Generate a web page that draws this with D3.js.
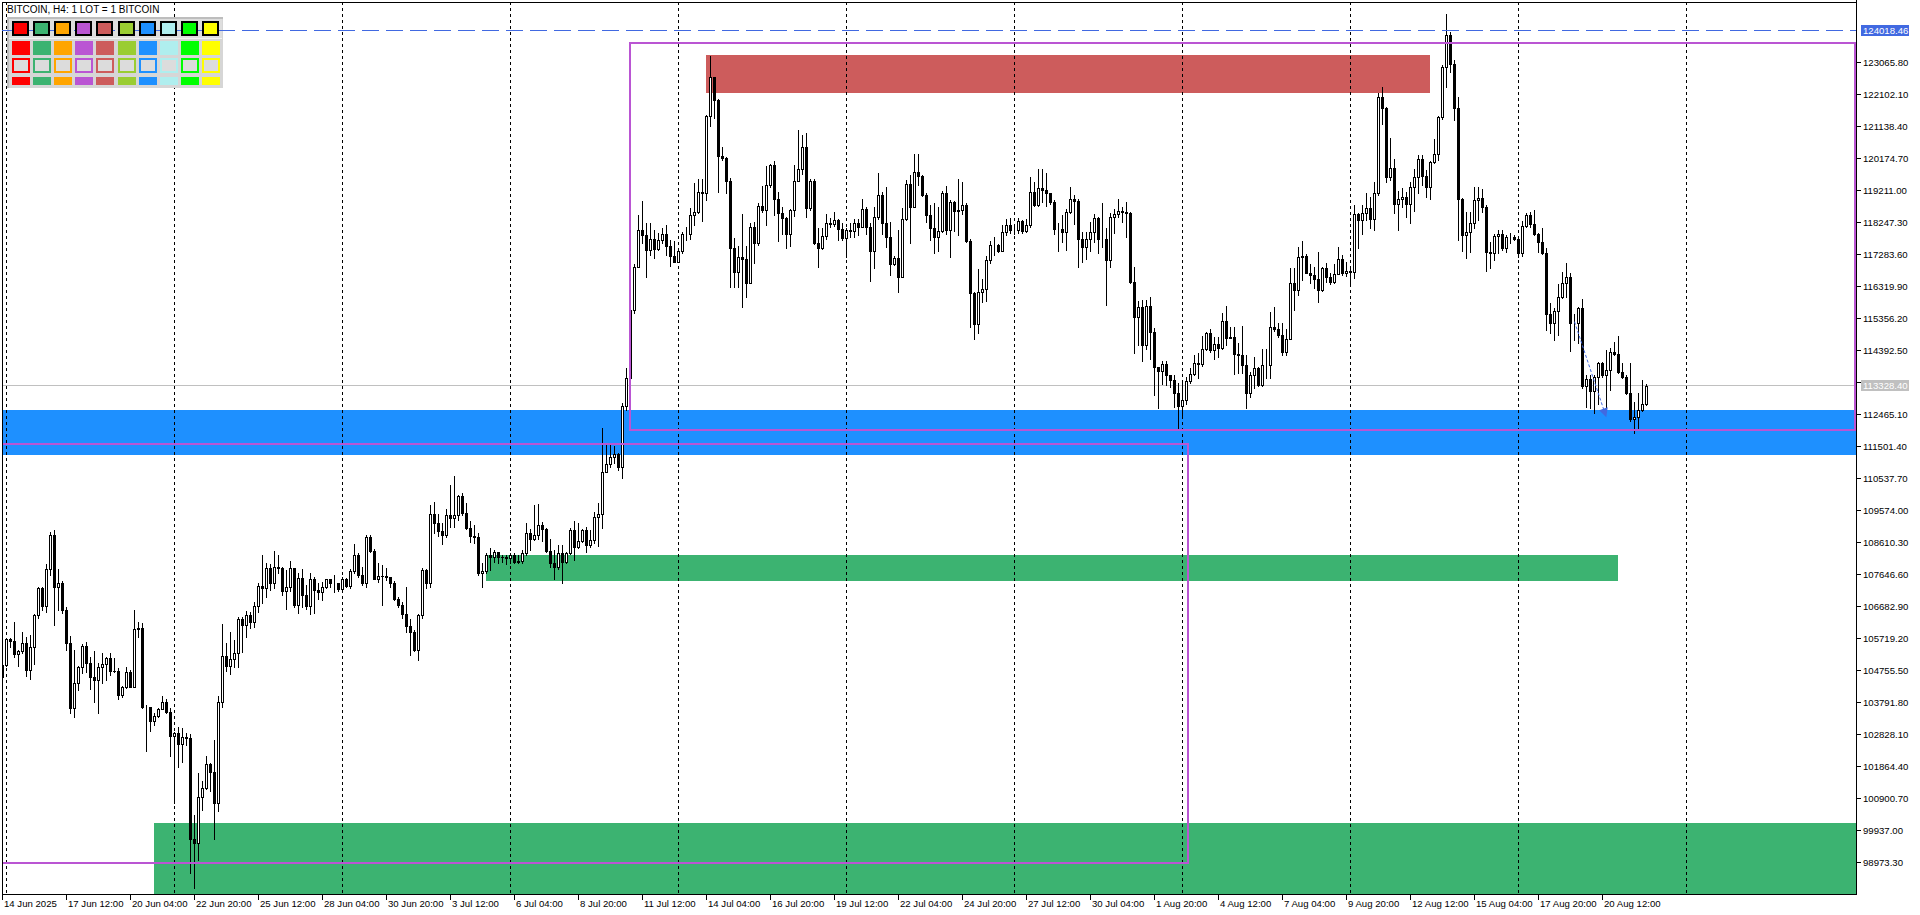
<!DOCTYPE html>
<html><head><meta charset="utf-8">
<script src="https://cdn.jsdelivr.net/npm/d3@7"></script>
<style>
html,body{margin:0;padding:0;background:#fff;overflow:hidden}
svg{display:block}
text{font-family:"Liberation Sans",Arial,sans-serif;}
</style>
</head><body>
<svg id="chart" width="1920" height="915"></svg>
<script>
// ---------------- DATA ----------------
const title = "BITCOIN, H4:  1 LOT = 1 BITCOIN";
const firstOpen = 104560;
const closes = [
104910,105690,105630,105240,105350,105590,104750,105450,106420,107220,
106700,107800,108820,107270,107370,106570,105570,103630,104360,104840,
105490,104980,104540,104450,104840,104960,105120,104740,104730,104000,
104260,104690,104260,105990,106020,103660,103660,103240,103380,103580,
103810,103490,102790,102860,102550,102740,102730,99690,99540,100930,
101200,101930,101700,100750,103790,105200,104890,105090,105270,106290,
106130,106420,106220,106700,107290,107220,107830,107370,107880,107830,
107150,107250,107830,106720,107550,107020,106700,107520,107170,107120,
107250,107490,107370,107370,107190,107520,107290,107750,108220,107620,
107390,108760,108350,107520,107610,107600,107570,107390,106890,106720,
106450,106100,105920,105370,106410,107780,107390,109460,109180,108960,
108830,109430,109330,109440,110000,109500,109030,108810,108780,107680,
107750,108220,108180,108320,108180,108160,108130,108230,108030,108040,
108280,108880,108700,108830,109120,109020,108360,107980,107880,108280,
108010,108280,108980,108460,108640,108980,108530,108680,109360,109460,
110740,110960,111170,111260,110890,112710,113550,115610,116910,118020,
117870,117410,117730,117440,117710,117890,117540,117240,117060,117380,
117910,117910,118470,118570,119150,119120,121450,122610,121930,120250,
120170,119500,117480,116760,117210,117150,116410,118120,117610,118740,
118620,119370,119970,118950,118540,118370,117910,118620,119490,119840,
120510,118670,119500,117610,117460,117830,118220,118200,118320,118040,
117780,118020,117990,118240,118120,118640,118120,117390,118400,119060,
118220,117790,116990,117160,116610,118340,119400,118720,119770,119640,
119070,118470,118070,117790,117990,119140,118020,118870,118600,118620,
118770,117690,116130,115180,116150,116230,117110,117560,117560,117390,
117970,118170,118020,118020,118290,118000,118160,119170,118770,119270,
119220,119120,118870,118040,118040,117970,118550,118940,118900,117730,
117490,117730,117960,118370,117730,117730,117110,118400,118500,118590,
118570,118520,116460,115400,115690,114550,115730,114950,113880,113780,
113980,113650,113500,113120,112710,112910,113470,113680,114000,113970,
114420,114900,114400,114580,114450,115270,114750,114800,114280,114250,
113950,113100,113650,113850,113350,113950,113950,115100,115020,114850,
114350,114720,116430,116210,117190,117230,116730,116660,116530,116210,
116860,116610,116460,116690,117130,116710,116790,116760,118490,118320,
118520,118670,118340,119120,122030,121680,119620,119870,118790,118940,
119020,118800,119300,119620,120140,119640,119300,120050,120290,121410,
122910,123890,123000,121700,118940,117860,117960,118240,118920,118970,
118720,117360,117310,117830,117910,117460,117810,117810,117730,117330,
118150,118470,118200,117910,117660,117310,115500,115200,115590,115990,
116410,116590,115220,115220,115660,113320,113520,113180,113600,114000,
113650,113800,114350,114280,113750,113580,113100,112310,112370,112590,
112790,113328.4];
const highs = [
104960,105710,105730,106200,105370,105900,105770,105820,106440,107270,
107250,107960,108930,108980,107810,107440,106670,105790,105370,104880,
105540,105600,105170,105350,104980,105270,105170,105270,105120,104810,
104280,104860,104760,106570,106200,106170,103700,103560,103460,103610,
103980,103890,103610,102910,103040,103010,102880,102840,100400,101650,
101420,102170,101950,102660,103980,106150,105570,105900,105670,106370,
106370,106550,106520,106810,107370,108230,107980,107960,108350,108230,
107880,107780,108060,107800,107680,107800,107320,107700,107570,107390,
107420,107520,107450,107620,107390,107570,107550,107800,108560,108280,
107880,108830,108830,108400,108000,107930,107830,107550,107450,106970,
106820,107250,106290,105970,106450,107830,107800,109730,109810,109460,
109180,109600,110340,110610,110030,110080,109780,109250,109130,108900,
108000,108300,108430,108380,108250,108230,108230,108280,108280,108230,
108380,109200,109010,109730,109760,109230,109030,108700,108380,108530,
108530,108330,109030,109250,109180,109010,109080,108980,109530,109800,
112040,111540,111540,111510,111310,112820,113850,115650,116980,118470,
118890,118240,118240,118020,117930,118070,118170,117710,117690,117430,
117960,118120,118670,119440,119540,119540,121480,123260,122630,121960,
120510,120220,119570,117760,117530,118500,117530,118240,118270,118820,
119340,119940,120000,120090,119150,118720,118420,118640,119970,121030,
120880,120930,119540,119540,118070,118070,118490,118390,118550,118340,
118220,118070,118220,118340,118350,118940,118700,118220,118700,119740,
119170,119320,118270,117230,118020,118670,119520,119670,120290,120300,
119670,119120,118770,118820,118720,119200,119340,118920,118900,119540,
119470,118840,117730,116160,116830,116530,117230,117690,117790,117590,
118170,118340,118370,118120,118370,118320,118340,119620,119470,119840,
119840,119720,119140,118920,118220,118470,118640,119320,119070,118940,
117960,117960,118270,118490,118420,118820,118070,118520,118640,118940,
118720,118870,118570,116910,115890,115910,115910,115990,115050,113900,
114070,114070,113650,113650,113420,113420,113600,113850,114250,114300,
114820,114950,115020,114800,114800,115510,115730,115100,115100,114600,
115120,114250,113750,114200,113900,114420,114420,115560,115710,115220,
115200,115020,116860,116860,117510,117680,117290,116990,116910,117340,
116910,117030,116710,116990,117510,117260,117060,116910,118770,118520,
118770,119120,119020,119470,122130,122330,121710,120780,120140,119200,
119270,119170,119470,119840,120270,120270,119820,120100,120750,121450,
122980,124520,123990,123140,122010,118970,118570,118570,119320,119320,
119240,118770,117660,117910,118010,118010,117860,117930,117860,117710,
118300,118540,118570,118620,117930,118070,117460,115810,115660,116390,
116760,117010,116730,115500,115710,115930,113650,113650,113650,114050,
114050,114400,114450,114650,114820,114000,113650,114020,112840,113100,
113500,113380];
const lows = [
104490,104880,105450,105170,104890,105270,104590,104490,104940,106320,
106570,106520,107630,106120,106570,106490,105370,103480,103360,104160,
104680,104710,104190,103810,103480,104380,104460,104610,104690,103890,
103940,104210,104240,104240,105770,103630,102330,102940,103110,103340,
103740,103460,102180,100770,101850,102000,102500,98660,98190,99040,
100550,101170,101130,99660,100530,103660,104740,104640,104860,104840,
105320,105770,106020,106070,106520,106770,106970,107170,107220,107680,
107020,106590,107150,106670,106470,106670,106590,106440,106470,106890,
106870,107220,107270,107120,107150,107120,107270,107220,107680,107570,
107320,107270,108310,107490,107420,106720,107470,107270,106870,106670,
106320,105920,105220,105350,105060,106320,107220,107250,108880,108800,
108550,108780,109060,109060,109280,109430,109000,108630,108580,107620,
107270,107680,107780,108030,108000,108030,107960,107980,108000,107980,
107980,108230,108380,108680,108700,108660,108330,107880,107490,107800,
107390,107980,108250,108080,108430,108610,108330,108480,108580,108500,
109030,110840,110890,110990,110790,110540,112590,113550,115510,116890,
117610,116610,117260,117180,117410,117610,117260,116940,117040,117110,
117310,117710,117730,118170,118540,118300,118920,121150,121380,119170,
120120,119140,116290,116290,116290,115710,116010,116560,117030,117560,
118570,118170,119320,118470,117680,117890,117480,117530,118440,119570,
119700,118400,118620,117590,116890,117430,117730,118120,118140,117710,
117710,117210,117790,117790,117860,118100,117910,116490,116860,118340,
117910,117510,116660,116960,116160,116590,118320,117630,118700,119370,
119040,118270,117710,117330,117380,117970,117890,117190,118000,117860,
118500,117660,115100,114730,114900,115860,115890,117010,117260,117360,
117810,117860,117940,117910,117940,117940,117970,118120,118740,118740,
118870,118740,118800,117890,117390,117660,117410,118520,118200,116910,
117060,117140,117390,117660,117330,117510,115760,116910,117930,118400,
118250,117790,116430,114300,114550,114080,114420,114120,113050,112640,
113380,113350,113300,112670,112030,112350,112770,113420,113650,113550,
113920,114400,114350,114120,114200,114420,114550,114750,113680,113700,
113700,112640,113000,113250,113320,113320,113550,113550,114980,114800,
114250,114250,114880,115610,116060,116510,116710,116430,116260,115860,
116190,116460,116390,116430,117010,116660,116630,116330,116560,117460,
117910,118320,118070,118030,119070,121210,119470,119520,118520,118010,
118700,118420,118220,118600,119120,119370,119020,118940,120020,120120,
121350,122330,122780,121330,117710,117390,117160,117360,118070,118320,
118570,116790,116860,117110,117310,117410,117360,117610,117710,117210,
117230,118120,118120,117860,117360,117290,115000,114920,114700,114850,
115960,115990,114380,114700,114600,113250,112690,112640,112510,112790,
113600,112640,113200,114250,113720,113550,113080,112270,111910,112040,
112570,112740];

// price axis tick values
const yTickValues = [123065.80,122102.10,121138.40,120174.70,119211.00,118247.30,117283.60,
116319.90,115356.20,114392.50,113428.80,112465.10,111501.40,110537.70,109574.00,108610.30,
107646.60,106682.90,105719.20,104755.50,103791.80,102828.10,101864.40,100900.70,99937.00,98973.30];
// time axis labels (every 16 bars from the first bar)
const xTickLabels = ["14 Jun 2025","17 Jun 12:00","20 Jun 04:00","22 Jun 20:00","25 Jun 12:00",
"28 Jun 04:00","30 Jun 20:00","3 Jul 12:00","6 Jul 04:00","8 Jul 20:00","11 Jul 12:00",
"14 Jul 04:00","16 Jul 20:00","19 Jul 12:00","22 Jul 04:00","24 Jul 20:00","27 Jul 12:00",
"30 Jul 04:00","1 Aug 20:00","4 Aug 12:00","7 Aug 04:00","9 Aug 20:00","12 Aug 12:00",
"15 Aug 04:00","17 Aug 20:00","20 Aug 12:00"];
const xTickEvery = 16;
// weekly separators: first at bar 1 (15 Jun 00:00), every 42 bars
const gridFirstBar = 1, gridEvery = 42, gridCount = 11;

// zones (bar index start/end, top price, bottom price)
const zoneStart = [176, -20, 121, 38];
const zoneEnd   = [357, 520, 404, 520];
const zoneTop   = [123285, 112594, 108228, 100166];
const zoneBottom= [122150, 111239, 107454, 97000];
// range rectangles
const rangeStart = [-20, 157];
const rangeEnd   = [296.5, 463.25];
const rangeTop   = [111571, 123656];
const rangeBottom= [98961, 111992];
// horizontal lines
const alertLevel = 124018.46;
const bidLevel = 113328.40;
// trend arrow (bar, price)
const arrowFrom = [393, 115254];
const arrowTo   = [401, 112400];
// colour palette panel
const paletteColors = ["#FF0000","#3CB371","#FFA500","#BA55D3","#CD5C5C","#9ACD32","#1E90FF","#AFEEEE","#00FF00","#FFFF00"];

// ---------------- STYLE ----------------
const zoneColors = ["#CD5C5C","#1E90FF","#3CB371","#3CB371"];
const PURPLE = "#BA55D3", ROYAL = "#4169E1";
const FONT = 9.6;

// ---------------- DRAW ----------------
const svg = d3.select("#chart");
const P = {l:2, r:1856, t:2, b:894};
const x = d3.scaleLinear().domain([0,1]).range([2,6]);
const y = d3.scaleLinear().domain([98973.3,123065.8]).range([862.3,62.3]);
const fmt = d3.format(".2f");

svg.append("rect").attr("width",1920).attr("height",915).attr("fill","#fff");
const defs = svg.append("defs");
defs.append("clipPath").attr("id","clip").append("rect")
  .attr("x",P.l+1).attr("y",P.t+1).attr("width",P.r-P.l-1).attr("height",P.b-P.t-1);
defs.append("marker").attr("id","arr").attr("viewBox","0 0 10 10").attr("refX",9).attr("refY",5)
  .attr("markerUnits","userSpaceOnUse").attr("markerWidth",10).attr("markerHeight",9).attr("orient","auto")
  .append("path").attr("d","M0,0 L10,5 L0,10 z").attr("fill",ROYAL);

const g = svg.append("g").attr("clip-path","url(#clip)").attr("shape-rendering","crispEdges");

// zones
g.selectAll("rect.zone").data(d3.range(zoneStart.length)).join("rect")
  .attr("x",i=>x(zoneStart[i])).attr("width",i=>x(zoneEnd[i])-x(zoneStart[i]))
  .attr("y",i=>Math.round(y(zoneTop[i]))).attr("height",i=>Math.round(y(zoneBottom[i]))-Math.round(y(zoneTop[i])))
  .attr("fill",i=>zoneColors[i]);

// weekly grid
g.selectAll("line.grid").data(d3.range(gridCount).map(k=>gridFirstBar+k*gridEvery)).join("line")
  .attr("x1",b=>x(b)+0.5).attr("x2",b=>x(b)+0.5).attr("y1",P.t).attr("y2",P.b)
  .attr("stroke","#000").attr("stroke-width",1).attr("stroke-dasharray","3,3");

// bid line
const yb = Math.floor(y(bidLevel))+0.5;
g.append("line").attr("x1",P.l).attr("x2",P.r).attr("y1",yb).attr("y2",yb).attr("stroke","#C0C0C0");

// candles
const bars = closes.map((c,i)=>{
  const o = i===0 ? firstOpen : closes[i-1];
  return {i,o,c,h:Math.max(highs[i],o,c),l:Math.min(lows[i],o,c)};
});
const cg = g.append("g");
cg.selectAll("line.wick").data(bars).join("line")
  .attr("x1",d=>x(d.i)+0.5).attr("x2",d=>x(d.i)+0.5)
  .attr("y1",d=>Math.round(y(d.h))).attr("y2",d=>Math.round(y(d.l))+1)
  .attr("stroke","#000").attr("stroke-width",1);
cg.selectAll("rect.body").data(bars).join("rect")
  .each(function(d){
    const top = Math.round(y(Math.max(d.o,d.c))), bot = Math.round(y(Math.min(d.o,d.c)));
    const s = d3.select(this);
    if (d.c >= d.o) {
      s.attr("x",x(d.i)-0.5).attr("y",top+0.5).attr("width",2).attr("height",Math.max(0,bot-top))
       .attr("fill","#fff").attr("stroke","#000").attr("stroke-width",1);
    } else {
      s.attr("x",x(d.i)-1).attr("y",top).attr("width",3).attr("height",Math.max(1,bot-top+1))
       .attr("fill","#000");
    }
  });

// range rectangles
g.selectAll("rect.range").data(d3.range(rangeStart.length)).join("rect")
  .attr("x",i=>x(rangeStart[i])).attr("width",i=>x(rangeEnd[i])-x(rangeStart[i]))
  .attr("y",i=>Math.round(y(rangeTop[i]))).attr("height",i=>Math.round(y(rangeBottom[i]))-Math.round(y(rangeTop[i])))
  .attr("fill","none").attr("stroke",PURPLE).attr("stroke-width",2);

// alert dashed line
const ya = Math.floor(y(alertLevel))+0.5;
g.append("line").attr("x1",P.l).attr("x2",P.r).attr("y1",ya).attr("y2",ya)
  .attr("stroke",ROYAL).attr("stroke-dasharray","17,7");

// trend arrow
svg.append("line").attr("x1",x(arrowFrom[0])+0.5).attr("y1",y(arrowFrom[1]))
  .attr("x2",x(arrowTo[0])).attr("y2",y(arrowTo[1]))
  .attr("stroke",ROYAL).attr("stroke-width",1).attr("stroke-dasharray","3,2").attr("marker-end","url(#arr)");

// frame & axes
const fr = svg.append("g").attr("shape-rendering","crispEdges");
fr.append("line").attr("x1",P.l+0.5).attr("x2",P.l+0.5).attr("y1",P.t).attr("y2",P.b+1).attr("stroke","#000");
fr.append("line").attr("x1",P.l).attr("x2",P.r+1).attr("y1",P.t+0.5).attr("y2",P.t+0.5).attr("stroke","#000");
fr.append("line").attr("x1",P.r+0.5).attr("x2",P.r+0.5).attr("y1",0).attr("y2",P.b+1).attr("stroke","#000");
fr.append("line").attr("x1",P.l).attr("x2",P.r+1).attr("y1",P.b+0.5).attr("y2",P.b+0.5).attr("stroke","#000");

// price axis
const ya2 = svg.append("g");
ya2.selectAll("line").data(yTickValues).join("line")
  .attr("x1",P.r+1).attr("x2",P.r+5).attr("y1",v=>Math.floor(y(v))+0.5).attr("y2",v=>Math.floor(y(v))+0.5)
  .attr("stroke","#000").attr("shape-rendering","crispEdges");
ya2.selectAll("text").data(yTickValues).join("text")
  .attr("x",P.r+7).attr("y",v=>y(v)+3.5).attr("font-size",FONT).attr("fill","#000").text(v=>fmt(v));

function priceBox(v, bg){
  const yy = Math.floor(y(v));
  svg.append("rect").attr("x",P.r+5).attr("y",yy-5).attr("width",48).attr("height",11).attr("fill",bg);
  svg.append("text").attr("x",P.r+7).attr("y",yy+4).attr("font-size",FONT).attr("fill","#fff").text(fmt(v));
}
priceBox(alertLevel, ROYAL);
priceBox(bidLevel, "#C0C0C0");

// time axis
const xa = svg.append("g");
const tb = xTickLabels.map((s,k)=>({s,b:k*xTickEvery}));
xa.selectAll("line").data(tb).join("line")
  .attr("x1",d=>x(d.b)+0.5).attr("x2",d=>x(d.b)+0.5).attr("y1",P.b+1).attr("y2",P.b+6)
  .attr("stroke","#000").attr("shape-rendering","crispEdges");
xa.selectAll("text").data(tb).join("text")
  .attr("x",d=>x(d.b)+2).attr("y",906.5).attr("font-size",FONT).attr("fill","#000").text(d=>d.s);

// palette panel
const pal = svg.append("g").attr("shape-rendering","crispEdges");
pal.append("rect").attr("x",7).attr("y",18).attr("width",216).attr("height",70).attr("fill","#D6D6D6");
pal.append("rect").attr("x",8).attr("y",19).attr("width",214).attr("height",19).attr("fill","#DEDEDE");
pal.append("rect").attr("x",7).attr("y",17).attr("width",216).attr("height",2).attr("fill","#BDBDBD");
pal.append("rect").attr("x",7).attr("y",17).attr("width",2).attr("height",71).attr("fill","#BDBDBD");
pal.append("rect").attr("x",9).attr("y",38).attr("width",213).attr("height",1).attr("fill","#F2F2F2");
// dashed alert line passes behind swatches
pal.append("line").attr("x1",P.l).attr("x2",223).attr("y1",ya).attr("y2",ya).attr("stroke",ROYAL).attr("stroke-dasharray","17,7");
const colX = i => 12 + i*21.1;
pal.selectAll("rect.r1").data(paletteColors).join("rect")
  .attr("x",(c,i)=>Math.round(colX(i))+1).attr("y",22).attr("width",15).attr("height",13)
  .attr("fill",c=>c).attr("stroke","#000").attr("stroke-width",2);
pal.selectAll("rect.r2").data(paletteColors).join("rect")
  .attr("x",(c,i)=>Math.round(colX(i))).attr("y",41).attr("width",18).attr("height",14).attr("fill",c=>c);
pal.selectAll("rect.r3").data(paletteColors).join("rect")
  .attr("x",(c,i)=>Math.round(colX(i))+1).attr("y",59).attr("width",16).attr("height",13)
  .attr("fill","#DCDCDC").attr("stroke",c=>c).attr("stroke-width",2);
pal.selectAll("rect.r4").data(paletteColors).join("rect")
  .attr("x",(c,i)=>Math.round(colX(i))).attr("y",77).attr("width",18).attr("height",8).attr("fill",c=>c);

// title
svg.append("text").attr("x",7).attr("y",13).attr("font-size",10).attr("fill","#000").text(title);
</script>
</body></html>
